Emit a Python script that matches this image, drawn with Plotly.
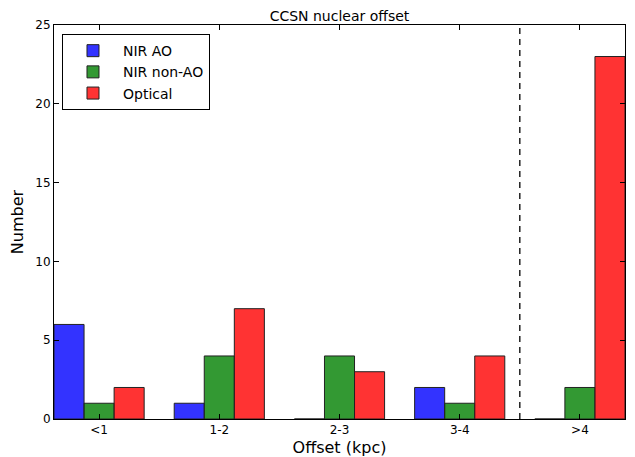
import plotly.graph_objects as go

categories = ["<1", "1-2", "2-3", "3-4", ">4"]
nir_ao = [6, 1, 0, 2, 0]
nir_non_ao = [1, 4, 4, 1, 2]
optical = [2, 7, 3, 4, 23]
series_names = ["NIR AO", "NIR non-AO", "Optical"]
colors = ["rgba(0,0,255,0.8)", "rgba(0,128,0,0.8)", "rgba(255,0,0,0.8)"]
divider_x = 3.5
y_ticks = [0, 5, 10, 15, 20, 25]

x = list(range(len(categories)))
fig = go.Figure()
for name, vals, c in zip(series_names, [nir_ao, nir_non_ao, optical], colors):
    fig.add_trace(go.Bar(x=x, y=vals, name=name, marker=dict(color=c, line=dict(color="#222222", width=1))))

fig.add_shape(type="line", xref="x", yref="paper", x0=divider_x, x1=divider_x, y0=0, y1=1,
              line=dict(color="black", width=1.3, dash="6px,5px"))

font = "DejaVu Sans, Liberation Sans, sans-serif"
fig.update_layout(
    width=635, height=457,
    margin=dict(l=54, r=10, t=25, b=38),
    paper_bgcolor="white", plot_bgcolor="white",
    barmode="group", bargap=0.25, bargroupgap=0,
    font=dict(family=font, color="black", size=12),
    title=dict(text="CCSN nuclear offset", x=0.5, xref="paper", y=1, yref="paper",
               yanchor="bottom", pad=dict(b=4), font=dict(size=14)),
    showlegend=True,
    legend=dict(x=0.014, y=0.977, xanchor="left", yanchor="top",
                bgcolor="white", bordercolor="black", borderwidth=1,
                font=dict(size=14), tracegroupgap=2, itemwidth=50),
    xaxis=dict(range=[-0.375, 4.375], tickvals=x, ticktext=categories, automargin=False,
               ticks="inside", ticklen=5, tickcolor="black", mirror="allticks",
               showline=True, linecolor="black", linewidth=1, showgrid=False, zeroline=False,
               title=dict(text="Offset (kpc)", font=dict(size=16), standoff=5)),
    yaxis=dict(range=[0, 25], tickvals=y_ticks, automargin=False,
               ticks="inside", ticklen=5, tickcolor="black", mirror="allticks",
               showline=True, linecolor="black", linewidth=1, showgrid=False, zeroline=False,
               title=dict(text="Number", font=dict(size=16), standoff=7)),
)
fig.write_html("out.html", config={"displayModeBar": False},
               post_script="document.body.style.margin='0';document.body.style.overflow='hidden';")
